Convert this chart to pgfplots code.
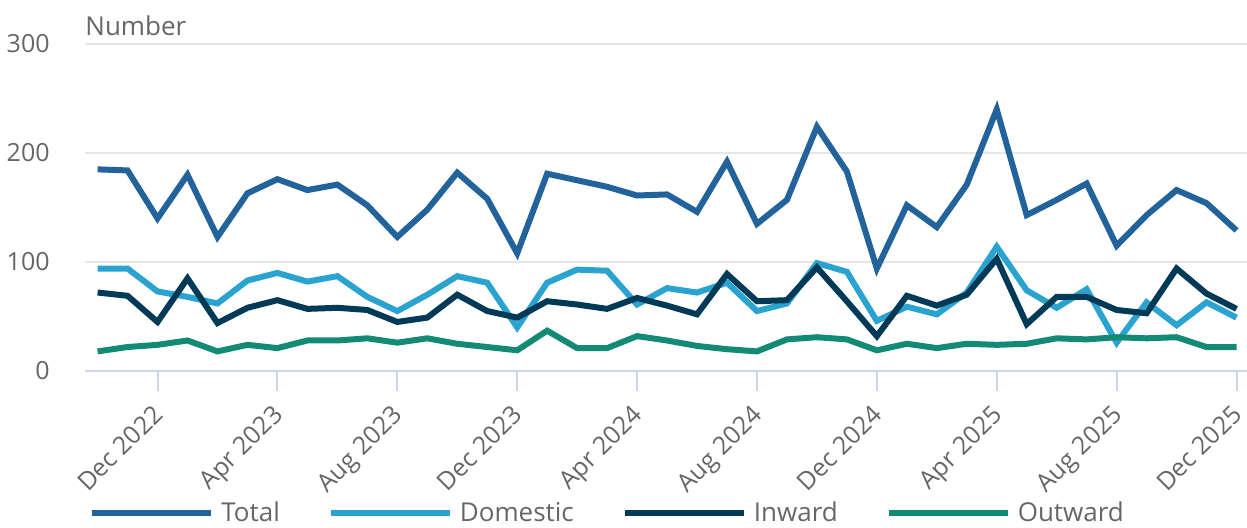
\documentclass[border=0pt]{standalone}
\usepackage{pgfplots}
\pgfplotsset{compat=1.18}
\usepackage{fontspec}
\setmainfont{Open Sans}

\definecolor{totalc}{HTML}{22639B}
\definecolor{domc}{HTML}{2BA3D1}
\definecolor{inwc}{HTML}{013A56}
\definecolor{outc}{HTML}{138A75}
\definecolor{gridc}{HTML}{E6E6E6}
\definecolor{axisc}{HTML}{CCD6EB}
\definecolor{labelc}{HTML}{666666}

% month index: 0 = Oct 2022 ... 38 = Dec 2025
\pgfplotstableread{
m  total dom inw out
0  185 94 72 18
1  184 94 69 22
2  140 73 45 24
3  180 68 85 28
4  123 62 44 18
5  163 83 58 24
6  176 90 65 21
7  166 82 57 28
8  171 87 58 28
9  152 68 56 30
10 123 55 45 26
11 148 70 49 30
12 182 87 70 25
13 158 81 55 22
14 108 40 49 19
15 181 81 64 37
16 175 93 61 21
17 169 92 57 21
18 161 61 67 32
19 162 76 60 28
20 146 72 52 23
21 192 81 89 20
22 135 55 64 18
23 157 62 65 29
24 224 99 95 31
25 183 91 64 29
26 94  46 32 19
27 152 59 69 25
28 132 52 60 21
29 171 72 70 25
30 240 114 103 24
31 143 74 43 25
32 157 58 68 30
33 172 75 68 29
34 115 26 56 31
35 143 63 53 30
36 166 42 94 31
37 154 63 71 22
38 129 49 57 22
}\datatable

\begin{document}
\begin{tikzpicture}
\begin{axis}[
  name=ax,
  at={(0,0)}, anchor=south west,
  scale only axis, width=581pt, height=163.5pt,
  xmin=-0.42, xmax=38.35, ymin=0, ymax=300,
  axis line style={draw=none},
  xtick={2,6,...,38},
  xticklabels={Dec 2022,Apr 2023,Aug 2023,Dec 2023,Apr 2024,Aug 2024,Dec 2024,Apr 2025,Aug 2025,Dec 2025},
  ytick={0,100,200,300},
  ymajorgrids,
  grid style={color=gridc, line width=0.6pt},
  tick pos=left,
  tick align=outside,
  major tick length=10pt,
  xtick style={draw=axisc, line width=1pt},
  ytick style={draw=none},
  /pgf/number format/assume math mode=true,
  tick label style={font=\fontsize{12.5}{15}\selectfont, text=labelc},
  % shifts are in the rotated frame of the label
  xticklabel style={rotate=45, anchor=base east, inner sep=0pt, xshift=-6.4pt, yshift=-11.4pt},
  yticklabel style={anchor=east, inner sep=0pt, xshift=-7.5pt},
  legend columns=4,
  legend style={at={(0,0)}, anchor=west, xshift=2pt, yshift=-71pt,
    draw=none, fill=none, inner sep=0pt,
    font=\fontsize{13}{15}\selectfont, text=labelc,
    nodes={inner sep=0pt},
    /tikz/every odd column/.append style={column sep=3.5pt},
    /tikz/every even column/.append style={column sep=24pt}},
  legend image code/.code={\draw[#1, line width=3pt] (0pt,0pt) -- (59.5pt,0pt);},
  every axis plot/.append style={line width=3pt, no markers},
]
\draw[axisc, line width=1pt] (rel axis cs:0,0) -- (rel axis cs:1,0);
\addplot[totalc] table[x=m, y=total] {\datatable};
\addplot[domc] table[x=m, y=dom] {\datatable};
\addplot[inwc] table[x=m, y=inw] {\datatable};
\addplot[outc] table[x=m, y=out] {\datatable};
\legend{Total,Domestic,Inward,Outward}
\end{axis}
\node[anchor=base west, inner sep=0pt, text=labelc, font=\fontsize{13}{15}\selectfont] at (0pt,168pt) {Number};
\pgfresetboundingbox
\useasboundingbox (-42.5pt,-78pt) rectangle (581pt,185.5pt);
\end{tikzpicture}
\end{document}
